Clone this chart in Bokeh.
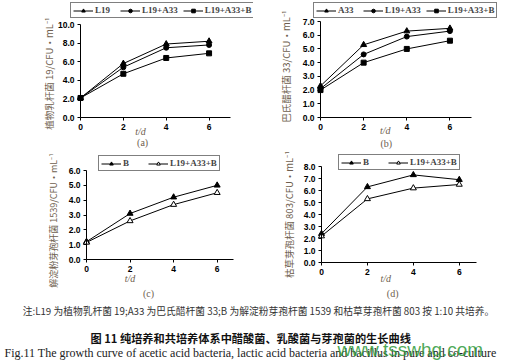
from bokeh.plotting import figure
from bokeh.models import (Range1d, FixedTicker, NumeralTickFormatter, Legend, LegendItem, Label)
from bokeh.layouts import column, row
from bokeh.embed import file_html
from bokeh.resources import INLINE

days = [0, 2, 4, 6]
x_ticks = [0, 2, 4, 6]

# panel (a)
a_L19 = [2.1, 5.8, 7.9, 8.2]
a_L19_A33 = [2.1, 5.4, 7.5, 7.8]
a_L19_A33_B = [2.1, 4.7, 6.4, 6.9]
a_yticks = [0, 2, 4, 6, 8, 10]
# panel (b)
b_A33 = [2.3, 5.3, 6.3, 6.5]
b_L19_A33 = [2.1, 4.6, 5.9, 6.3]
b_L19_A33_B = [2.0, 4.0, 5.0, 5.6]
b_yticks = [0, 1, 2, 3, 4, 5, 6, 7]
# panel (c)
c_B = [1.2, 3.1, 4.2, 5.0]
c_L19_A33_B = [1.15, 2.6, 3.7, 4.5]
c_yticks = [0, 1, 2, 3, 4, 5, 6]
# panel (d)
d_B = [2.4, 6.3, 7.3, 6.9]
d_L19_A33_B = [2.2, 5.3, 6.2, 6.5]
d_yticks = [0, 1, 2, 3, 4, 5, 6, 7, 8]

CJK = "Noto Sans CJK SC"
SERIF = "Liberation Serif"
SANS = "Liberation Sans"
LABEL_COLOR = "#6e5e4e"


def make_panel(w, h, fl, fr, ft, fb, xmax, ymax, yticks):
    # fl/fr: pixel column of x=0 / x=xmax ; ft/fb: pixel row of y=ymax / y=0
    ux = (fr - fl) / xmax
    uy = (fb - ft) / ymax
    p = figure(width=w, height=h, output_backend="svg", toolbar_location=None,
               x_range=Range1d(-fl / ux, xmax + (w - fr) / ux),
               y_range=Range1d(-(h - fb) / uy, ymax + ft / uy),
               min_border_left=0, min_border_right=0,
               min_border_top=0, min_border_bottom=0)
    p.outline_line_color = None
    p.grid.visible = False
    p.xaxis.ticker = FixedTicker(ticks=x_ticks)
    p.yaxis.ticker = FixedTicker(ticks=yticks)
    p.yaxis.formatter = NumeralTickFormatter(format="0.0")
    p.xaxis.fixed_location = 0
    p.yaxis.fixed_location = 0
    p.xaxis.bounds = (0, xmax)
    p.yaxis.bounds = (0, ymax)
    for ax in (p.xaxis, p.yaxis):
        ax.major_tick_in = 0
        ax.major_tick_out = 3
        ax.minor_tick_line_color = None
        ax.axis_line_color = "black"
        ax.major_tick_line_color = "black"
        ax.major_label_text_font = SANS
        ax.major_label_text_font_style = "bold"
        ax.major_label_text_font_size = "8.5px"
        ax.major_label_text_color = "black"
        ax.major_label_standoff = 3
    return p


def add_ylabel(p, text, sx, sy, size="9.5px"):
    p.add_layout(Label(x=sx, y=sy, x_units="screen", y_units="screen", text=text,
                       angle=90, angle_units="deg", text_font=CJK, text_font_size=size,
                       text_color=LABEL_COLOR, text_align="center", text_baseline="middle"))


def add_series(p, ys, marker, fill="black", size=6):
    ln = p.line(days, ys, line_color="black", line_width=1)
    sc = p.scatter(days, ys, marker=marker, size=size, line_color="black",
                   fill_color=fill, line_width=1)
    return [ln, sc]


def add_legend(p, items, loc):
    lg = Legend(items=[LegendItem(label=l, renderers=r) for l, r in items],
                location=loc, orientation="horizontal",
                border_line_color="black", border_line_width=1,
                background_fill_color="white", background_fill_alpha=1,
                label_text_font=SERIF, label_text_font_style="bold",
                label_text_font_size="9px", label_height=9, label_standoff=2,
                glyph_width=20, glyph_height=9, spacing=5, padding=2, margin=0)
    p.add_layout(lg, "center")


def add_xlabels(p, td_x, td_y, cap_x, cap_y, cap):
    p.add_layout(Label(x=td_x, y=td_y, y_units="screen", text="t/d",
                       text_font=SERIF, text_font_style="italic", text_font_size="10px",
                       text_color=LABEL_COLOR, text_align="center", text_baseline="middle"))
    p.add_layout(Label(x=cap_x, y=cap_y, y_units="screen", text=cap,
                       text_font=SERIF, text_font_size="10px",
                       text_color=LABEL_COLOR, text_align="center", text_baseline="middle"))


# (a)
pa = make_panel(253, 150, 80, 230, 24, 117, 7, 10, a_yticks)
ra1 = add_series(pa, a_L19, "triangle")
ra2 = add_series(pa, a_L19_A33, "circle", size=5)
ra3 = add_series(pa, a_L19_A33_B, "square", size=5)
add_legend(pa, [("L19", ra1), ("L19+A33", ra2), ("L19+A33+B", ra3)], (70, 132))
add_xlabels(pa, 2.8, 19, 2.9, 8, "(a)")
add_ylabel(pa, "植物乳杆菌 19/CFU·mL⁻¹", 48, 77)

# (b)
pb = make_panel(254, 150, 67, 218, 21, 117, 7, 7, b_yticks)
rb1 = add_series(pb, b_A33, "triangle")
rb2 = add_series(pb, b_L19_A33, "circle", size=5)
rb3 = add_series(pb, b_L19_A33_B, "square", size=5)
add_legend(pb, [("A33", rb1), ("L19+A33", rb2), ("L19+A33+B", rb3)], (60, 132))
add_xlabels(pb, 3.0, 20, 3.05, 7, "(b)")
add_ylabel(pb, "巴氏醋杆菌 33/CFU·mL⁻¹", 32, 84)

# (c)
pc = make_panel(253, 150, 86, 233, 20, 109, 6.75, 6, c_yticks)
rc1 = add_series(pc, c_B, "triangle")
rc2 = add_series(pc, c_L19_A33_B, "triangle", fill="white")
add_legend(pc, [("B", rc1), ("L19+A33+B", rc2)], (98, 129))
add_xlabels(pc, 2.0, 22, 2.85, 7, "(c)")
add_ylabel(pc, "解淀粉芽孢杆菌 1539/CFU·mL⁻¹", 53, 80, size="9px")

# (d)
pd_ = make_panel(254, 150, 68, 223, 16, 112, 6.75, 8, d_yticks)
rd1 = add_series(pd_, d_B, "triangle")
rd2 = add_series(pd_, d_L19_A33_B, "triangle", fill="white")
add_legend(pd_, [("B", rd1), ("L19+A33+B", rd2)], (85, 130))
add_xlabels(pd_, 2.8, 22, 3.1, 7, "(d)")
add_ylabel(pd_, "枯草芽孢杆菌 803/CFU·mL⁻¹", 35, 86)

# caption area
pt = figure(width=507, height=63, output_backend="svg", toolbar_location=None,
            x_range=Range1d(0, 507), y_range=Range1d(0, 63),
            min_border_left=0, min_border_right=0, min_border_top=0, min_border_bottom=0)
pt.axis.visible = False
pt.grid.visible = False
pt.outline_line_color = None
pt.add_layout(Label(x=258, y=53, x_units="screen", y_units="screen",
                    text="注:L19 为植物乳杆菌 19;A33 为巴氏醋杆菌 33;B 为解淀粉芽孢杆菌 1539 和枯草芽孢杆菌 803 按 1:10 共培养。",
                    text_font=CJK, text_font_size="9.75px", text_color="#333333",
                    text_align="center", text_baseline="middle"))
pt.add_layout(Label(x=254, y=26, x_units="screen", y_units="screen",
                    text="图 11    纯培养和共培养体系中醋酸菌、乳酸菌与芽孢菌的生长曲线",
                    text_font=CJK, text_font_style="bold", text_font_size="11.2px", text_color="#111111",
                    text_align="center", text_baseline="middle"))
pt.add_layout(Label(x=4, y=11, x_units="screen", y_units="screen",
                    text="Fig.11   The growth curve of acetic acid bacteria, lactic acid bacteria and bacillus in pure and co-culture",
                    text_font=SERIF, text_font_size="12px", text_color="#222222",
                    text_align="left", text_baseline="middle"))
pt.add_layout(Label(x=337, y=14, x_units="screen", y_units="screen",
                    text="www.tsswhg.com",
                    text_font=SANS, text_font_size="19px", text_color="#2f9a3a", text_alpha=0.85,
                    text_align="left", text_baseline="middle"))

layout = column(row(pa, pb), row(pc, pd_), pt, spacing=0)
open("out.html", "w").write(file_html(layout, INLINE))
